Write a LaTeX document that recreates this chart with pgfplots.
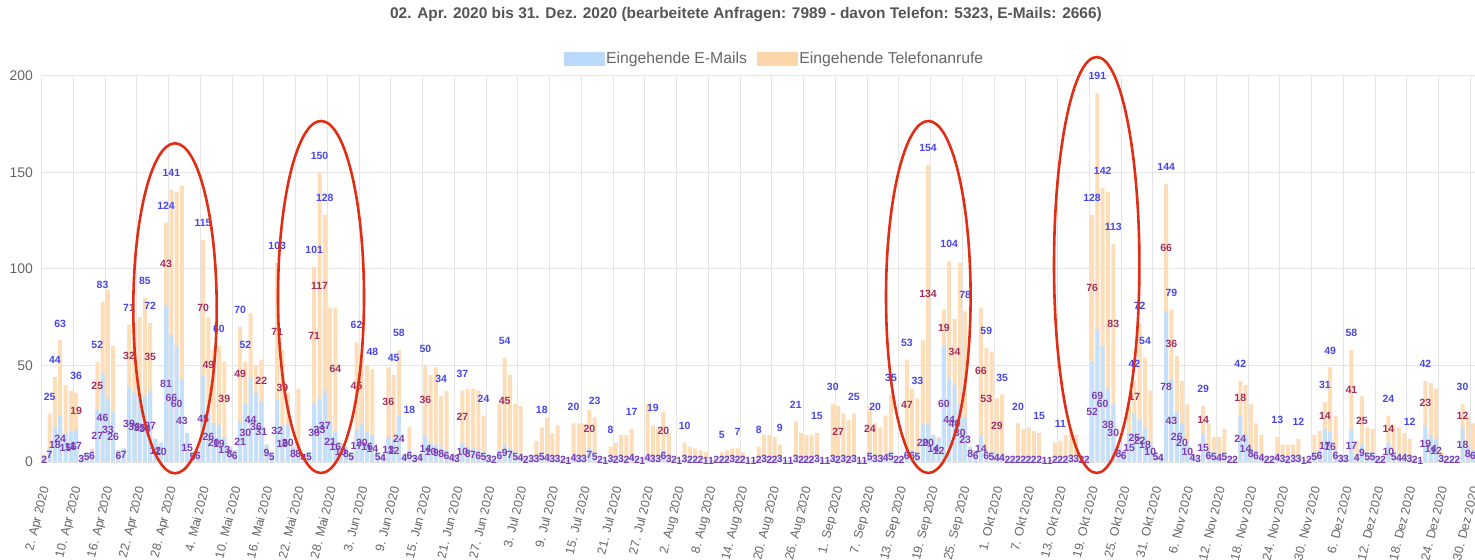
\documentclass[border=0pt]{standalone}
\usepackage{fontspec}
\setmainfont{Liberation Sans}
\usepackage{pgfplots}
\usepackage{pgfplotstable}
\pgfplotsset{compat=1.18}
\definecolor{mailc}{RGB}{196,224,250}
\definecolor{telc}{RGB}{253,222,185}
\definecolor{mailleg}{RGB}{185,218,250}
\definecolor{telleg}{RGB}{252,214,170}
\definecolor{gridc}{RGB}{229,229,229}
\definecolor{txtc}{RGB}{102,102,102}
\definecolor{titc}{RGB}{85,85,85}
\definecolor{totc}{RGB}{70,70,235}
\definecolor{telt}{RGB}{160,45,95}
\definecolor{mailt}{RGB}{125,60,180}
\definecolor{ringc}{RGB}{225,45,20}

\pgfplotstableread{
k E P t p
0 2 2 0 0
1 7 18 1 0
2 18 26 1 0
3 24 39 1 0
4 15 25 0 0
5 16 21 0 0
6 17 19 1 1
7 3 0 0 0
8 5 0 0 0
9 6 1 0 0
10 27 25 1 1
11 46 37 1 0
12 33 56 0 0
13 26 34 0 0
14 6 0 0 0
15 7 0 0 0
16 39 32 1 1
17 36 36 0 0
18 35 40 0 0
19 34 51 1 0
20 37 35 1 1
21 12 0 0 0
22 10 0 0 0
23 81 43 1 1
24 66 75 1 0
25 60 80 0 0
26 43 100 0 0
27 15 0 0 0
28 5 0 0 0
29 6 0 0 0
30 45 70 1 1
31 26 49 0 1
32 20 38 0 0
33 19 41 1 0
34 13 39 0 1
35 8 0 0 0
36 6 0 0 0
37 21 49 1 1
38 30 22 1 0
39 44 33 0 0
40 36 14 0 0
41 31 22 0 1
42 9 0 0 0
43 5 0 0 0
44 32 71 1 1
45 19 39 0 1
46 20 16 0 0
47 8 0 0 0
48 8 30 0 0
49 4 0 0 0
50 5 0 0 0
51 30 71 1 1
52 33 117 1 1
53 37 91 1 0
54 21 59 0 0
55 16 64 0 1
56 10 0 0 0
57 8 0 0 0
58 5 0 0 0
59 17 45 1 1
60 20 33 0 0
61 16 34 0 0
62 14 34 1 0
63 5 0 0 0
64 4 0 0 0
65 13 36 0 1
66 12 33 1 0
67 24 34 1 0
68 4 0 0 0
69 6 12 1 0
70 3 0 0 0
71 4 0 0 0
72 14 36 1 1
73 10 35 0 0
74 9 40 0 0
75 8 26 1 0
76 6 31 0 0
77 4 0 0 0
78 3 0 0 0
79 10 27 1 1
80 8 30 0 0
81 7 31 0 0
82 6 31 0 0
83 5 19 1 0
84 3 0 0 0
85 2 0 0 0
86 6 24 0 0
87 9 45 1 1
88 7 38 0 0
89 5 25 0 0
90 4 25 0 0
91 2 0 0 0
92 3 0 0 0
93 3 8 0 0
94 5 13 1 0
95 4 19 0 0
96 3 12 0 0
97 3 16 0 0
98 2 0 0 0
99 1 0 0 0
100 4 16 1 0
101 3 17 0 0
102 3 17 0 0
103 7 20 0 1
104 5 18 1 0
105 2 0 0 0
106 1 0 0 0
107 3 5 1 0
108 2 8 0 0
109 3 11 0 0
110 2 12 0 0
111 4 13 1 0
112 2 0 0 0
113 1 0 0 0
114 4 26 0 0
115 3 16 1 0
116 3 14 0 0
117 6 20 0 1
118 3 12 0 0
119 2 0 0 0
120 1 0 0 0
121 3 7 1 0
122 2 6 0 0
123 2 5 0 0
124 2 4 0 0
125 1 4 0 0
126 1 0 0 0
127 2 0 0 0
128 2 3 1 0
129 2 4 0 0
130 3 4 0 0
131 2 5 1 0
132 2 3 0 0
133 1 0 0 0
134 1 0 0 0
135 2 6 1 0
136 3 11 0 0
137 2 12 0 0
138 2 11 0 0
139 3 6 1 0
140 1 0 0 0
141 1 0 0 0
142 3 18 1 0
143 2 13 0 0
144 2 12 0 0
145 2 12 0 0
146 3 12 1 0
147 1 0 0 0
148 1 0 0 0
149 3 27 1 0
150 2 27 0 1
151 3 22 0 0
152 2 20 0 0
153 3 22 1 0
154 1 0 0 0
155 1 0 0 0
156 5 24 0 1
157 3 17 1 0
158 3 15 0 0
159 4 20 0 0
160 5 30 1 0
161 2 0 0 0
162 2 0 0 0
163 6 47 1 1
164 6 32 0 0
165 5 28 1 0
166 20 43 0 0
167 20 134 1 1
168 14 0 0 0
169 12 1 0 0
170 60 19 0 1
171 44 60 1 0
172 40 34 0 1
173 30 73 0 0
174 23 55 1 0
175 8 0 0 0
176 6 0 0 0
177 14 66 0 1
178 6 53 1 1
179 5 52 0 0
180 4 29 0 1
181 4 31 1 0
182 2 0 0 0
183 2 0 0 0
184 2 18 1 0
185 2 15 0 0
186 2 16 0 0
187 2 14 0 0
188 2 13 1 0
189 1 0 0 0
190 1 0 0 0
191 2 8 0 0
192 2 9 1 0
193 2 12 0 0
194 3 14 0 0
195 3 11 0 0
196 2 0 0 0
197 2 0 0 0
198 52 76 1 1
199 69 122 1 0
200 60 82 1 0
201 38 102 0 0
202 30 83 1 1
203 8 0 0 0
204 6 0 0 0
205 15 14 0 0
206 25 17 1 1
207 22 50 1 0
208 18 36 1 0
209 10 27 0 0
210 5 0 0 0
211 4 0 0 0
212 78 66 1 1
213 43 36 1 1
214 26 29 0 0
215 20 22 0 0
216 10 20 0 0
217 4 0 0 0
218 3 0 0 0
219 15 14 1 1
220 6 14 0 0
221 5 8 0 0
222 4 9 0 0
223 5 12 0 0
224 2 0 0 0
225 2 0 0 0
226 24 18 1 1
227 14 26 0 0
228 8 22 0 0
229 6 14 0 0
230 4 10 0 0
231 2 0 0 0
232 2 0 0 0
233 4 9 1 0
234 3 6 0 0
235 2 7 0 0
236 3 6 0 0
237 3 9 1 0
238 1 0 0 0
239 2 0 0 0
240 5 9 0 0
241 6 10 0 0
242 17 14 1 1
243 16 33 1 0
244 6 18 0 0
245 3 0 0 0
246 3 0 0 0
247 17 41 1 1
248 4 7 0 0
249 9 25 0 1
250 5 13 0 0
251 5 12 0 0
252 2 0 0 0
253 2 0 0 0
254 10 14 1 1
255 5 14 0 0
256 4 14 0 0
257 4 11 0 0
258 3 9 1 0
259 2 0 0 0
260 1 0 0 0
261 19 23 1 1
262 14 27 0 0
263 12 26 0 0
264 3 2 0 0
265 2 0 0 0
266 2 0 0 0
267 2 0 0 0
268 18 12 1 1
269 8 16 0 0
270 6 14 0 0
271 5 12 0 0
}\data

\begin{document}
\begin{tikzpicture}
\begin{axis}[
  at={(41.7bp,98bp)}, anchor=south west,
  scale only axis, width=1439.3bp, height=386bp,
  xmin=-0.5, xmax=271.5, ymin=0, ymax=200,
  clip=false,
  axis line style={draw=none},
  major tick length=0pt, minor tick length=0pt,
  ytick={0,50,100,150,200},
  xtick={0,6,...,270},
  xticklabels={2. Apr 2020,10. Apr 2020,16. Apr 2020,22. Apr 2020,28. Apr 2020,4. Mai 2020,10. Mai 2020,16. Mai 2020,22. Mai 2020,28. Mai 2020,3. Jun 2020,9. Jun 2020,15. Jun 2020,21. Jun 2020,27. Jun 2020,3. Jul 2020,9. Jul 2020,15. Jul 2020,21. Jul 2020,27. Jul 2020,2. Aug 2020,8. Aug 2020,14. Aug 2020,20. Aug 2020,26. Aug 2020,1. Sep 2020,7. Sep 2020,13. Sep 2020,19. Sep 2020,25. Sep 2020,1. Okt 2020,7. Okt 2020,13. Okt 2020,19. Okt 2020,25. Okt 2020,31. Okt 2020,6. Nov 2020,12. Nov 2020,18. Nov 2020,24. Nov 2020,30. Nov 2020,6. Dez 2020,12. Dez 2020,18. Dez 2020,24. Dez 2020,30. Dez 2020},
  minor xtick={-0.5,5.5,...,269.5},
  xmajorgrids=false, xminorgrids=true, ymajorgrids=true,
  major grid style={gridc, line width=1bp},
  minor grid style={gridc, line width=1bp},
  /pgf/number format/assume math mode=true,
  yticklabel style={font=\fontsize{14}{16}\selectfont, text=txtc, inner sep=0pt, xshift=-8.5bp},
  xticklabel style={font=\fontsize{12.5}{14}\selectfont, text=txtc, inner sep=1bp, yshift=-24bp, xshift=2bp, rotate=76, anchor=east},
  title={02. Apr. 2020 bis 31. Dez. 2020 (bearbeitete Anfragen: 7989 - davon Telefon: 5323, E-Mails: 2666)},
  title style={at={(axis description cs:0.4893,1.1425)}, anchor=center, font=\bfseries\fontsize{15.5}{18}\selectfont, text=titc},
  legend style={at={(axis description cs:0.5091,1.0459)}, anchor=center, draw=none, fill=none,
    font=\fontsize{15.8}{18}\selectfont, text=txtc,
    /tikz/every even column/.append style={column sep=8bp}},
  legend columns=2, legend cell align=left,
]
\addlegendimage{legend image code/.code={\fill[mailleg] (0bp,-6.5bp) rectangle (40bp,6.5bp);}}
\addlegendentry{Eingehende E-Mails}
\addlegendimage{legend image code/.code={\fill[telleg] (0bp,-6.5bp) rectangle (40bp,6.5bp);}}
\addlegendentry{Eingehende Telefonanrufe}

% stacked bars: phone on top of e-mails (drawn as total behind e-mail part)
\addplot[ybar, bar width=4bp, bar shift=0pt, fill=telc, draw=none, forget plot]
  table[x=k, y expr=\thisrow{E}+\thisrow{P}] {\data};
\addplot[ybar, bar width=4bp, bar shift=0pt, fill=mailc, draw=none, forget plot]
  table[x=k, y=E] {\data};

% e-mail labels (centre of e-mail segment)
\addplot[only marks, mark=*, mark size=0pt, mark options={draw=none,fill=none}, forget plot,
  point meta={\thisrow{E}},
  nodes near coords={\pgfmathprintnumber{\pgfplotspointmeta}},
  nodes near coords style={anchor=center, inner sep=0pt, font=\bfseries\fontsize{10.5}{12}\selectfont, text=mailt}]
  table[x=k, y expr=0.5*\thisrow{E}] {\data};

% phone labels (centre of phone segment)
\addplot[only marks, mark=*, mark size=0pt, mark options={draw=none,fill=none}, forget plot,
  restrict expr to domain={\thisrow{p}}{0.5:1.5},
  point meta={\thisrow{P}},
  nodes near coords={\pgfmathprintnumber{\pgfplotspointmeta}},
  nodes near coords style={anchor=center, inner sep=0pt, font=\bfseries\fontsize{10.5}{12}\selectfont, text=telt}]
  table[x=k, y expr=\thisrow{E}+0.5*\thisrow{P}] {\data};

% total labels (above bar)
\addplot[only marks, mark=*, mark size=0pt, mark options={draw=none,fill=none}, forget plot,
  restrict expr to domain={\thisrow{t}}{0.5:1.5},
  point meta={\thisrow{E}+\thisrow{P}},
  nodes near coords={\pgfmathprintnumber{\pgfplotspointmeta}},
  nodes near coords style={anchor=center, inner sep=0pt, yshift=17bp, font=\bfseries\fontsize{10.5}{12}\selectfont, text=totc}]
  table[x=k, y expr=\thisrow{E}+\thisrow{P}] {\data};
\end{axis}

% red highlight ellipses
\draw[ringc, line width=2.6bp] (175bp,251.7bp) ellipse [x radius=41.7bp, y radius=165bp];
\draw[ringc, line width=2.6bp] (321bp,263bp) ellipse [x radius=43bp, y radius=176bp];
\draw[ringc, line width=2.6bp] (928.3bp,263bp) ellipse [x radius=42.3bp, y radius=176bp];
\draw[ringc, line width=2.6bp] (1096.7bp,295bp) ellipse [x radius=42.7bp, y radius=208bp];

\pgfresetboundingbox
\path[use as bounding box] (0,0) rectangle (1475bp,560bp);
\end{tikzpicture}
\end{document}
